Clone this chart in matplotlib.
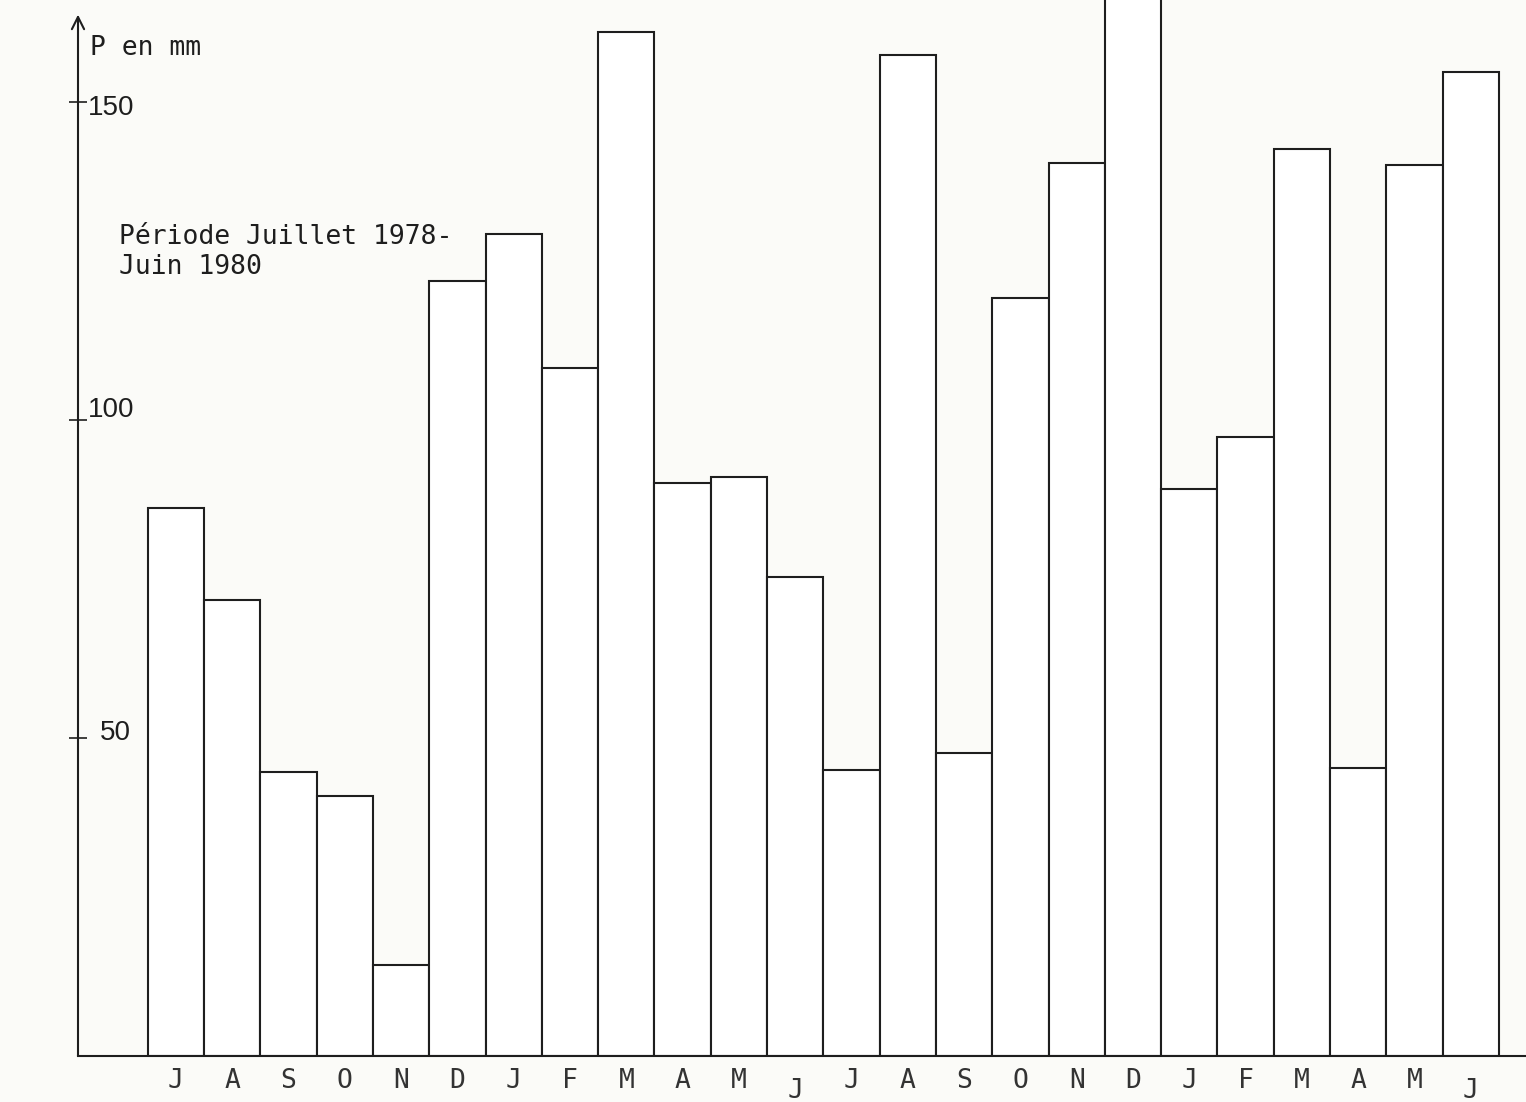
import numpy as np
import matplotlib
matplotlib.use('Agg')
import matplotlib.pyplot as plt

# monthly rainfall, July 1978 - June 1980 (mm)
months = ['J', 'A', 'S', 'O', 'N', 'D', 'J', 'F', 'M', 'A', 'M', 'J',
          'J', 'A', 'S', 'O', 'N', 'D', 'J', 'F', 'M', 'A', 'M', 'J']
rain = [86.2, 71.7, 44.7, 40.9, 14.3, 121.9, 129.2, 108.2, 161.0, 90.1, 91.0, 75.3,
        45.0, 157.4, 47.6, 119.2, 140.4, 175.0, 89.2, 97.3, 142.5, 45.3, 140.1, 154.7]
yTicks = [50, 100, 150]
yTickLabels = ['50', '100', '150']
title = 'Période Juillet 1978-\nJuin 1980'
unitLabel = 'P en mm'

ink = '#1e1e1e'
paper = '#fbfbf8'
mono = 'DejaVu Sans Mono'

fig = plt.figure(figsize=(15.26, 11.02), dpi=100, facecolor=paper)
ax = fig.add_axes([78 / 1526, 46 / 1102, 1 - 78 / 1526, 1056 / 1102])
ax.set_facecolor(paper)

x = np.arange(len(rain))
ax.bar(x, rain, width=1.0, align='edge', color='white', edgecolor=ink, linewidth=1.5)

x0 = -1.24
ax.set_xlim(x0, 24.48)
ax.set_ylim(0, 166)

# axes: only the baseline and an arrowed vertical axis
for side in ['top', 'right', 'left']:
    ax.spines[side].set_visible(False)
ax.spines['bottom'].set_color(ink)
ax.spines['bottom'].set_linewidth(1.5)
ax.annotate('', xy=(x0, 163.7), xytext=(x0, 0),
            arrowprops=dict(arrowstyle='->', lw=1.5, color=ink, mutation_scale=22,
                            shrinkA=0, shrinkB=0),
            annotation_clip=False)

# y ticks cross the axis, labels sit on its right (the scan's labels are a little off the ticks)
ax.set_yticks(yTicks)
ax.set_yticklabels([])
ax.tick_params(axis='y', direction='inout', length=13, width=1.2, color=ink)
labelX = {'50': 100, '100': 88, '150': 88}
labelNudge = {'50': 0.8, '100': 1.6, '150': -1.0}
for v, lab in zip(yTicks, yTickLabels):
    ax.text(x0 + (labelX[lab] - 78) / 56.3, v + labelNudge[lab], lab, ha='left', va='center',
            fontsize=20, family='Liberation Sans', color=ink)

# month letters under the bars, the two Junes dropped a bit lower
ax.set_xticks(x + 0.5)
ax.set_xticklabels(months, family=mono, fontsize=19, color='#333333')
ax.tick_params(axis='x', length=0, pad=9)
ticks = ax.xaxis.get_major_ticks()
ticks[11].set_pad(16)
ticks[23].set_pad(16)

ax.text(x0 + (90 - 78) / 56.3, 160.5, unitLabel, ha='left', va='top',
        family=mono, fontsize=19, color=ink)
ax.text(x0 + (119 - 78) / 56.3, 130.8, title, ha='left', va='top',
        family=mono, fontsize=19, color=ink, linespacing=1.2)

fig.savefig('out.png', dpi=100, facecolor=paper)
